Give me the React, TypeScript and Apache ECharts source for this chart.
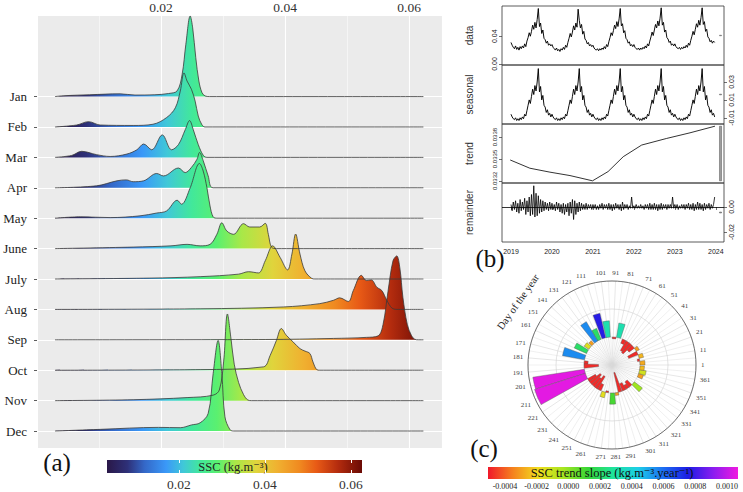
import React, { useEffect, useRef } from 'react';
import * as echarts from 'echarts';

const SERIF = '"Liberation Serif", "DejaVu Serif", serif';
const SANS = '"Liberation Sans", Arial, sans-serif';

// ---------- (a) monthly SSC density ridges: [SSC kg/m3, height in row units] ----------
const MONTHS = ['Jan', 'Feb', 'Mar', 'Apr', 'May', 'June', 'July', 'Aug', 'Sep', 'Oct', 'Nov', 'Dec'];

const JAN = [[0.0029, 0], [0.0045, 0.03], [0.0085, 0.06], [0.0134, 0.09], [0.0158, 0.05], [0.019, 0.06], [0.0212, 0.1], [0.0226, 0.19], [0.0234, 0.73], [0.024, 1.72], [0.0247, 2.65], [0.0251, 2.26], [0.0256, 1.28], [0.0261, 0.51], [0.0266, 0.13], [0.0271, 0.02], [0.0278, 0], [0.0623, 0]];
const FEB = [[0.0029, 0], [0.0064, 0.065], [0.0083, 0.175], [0.0102, 0.065], [0.0155, 0.05], [0.0187, 0.09], [0.0209, 0.31], [0.0223, 0.63], [0.0231, 1.18], [0.0237, 1.78], [0.0242, 1.51], [0.0249, 1.24], [0.0255, 0.85], [0.026, 0.36], [0.0266, 0.07], [0.0271, 0], [0.0623, 0]];
const MAR = [[0.0029, 0], [0.0056, 0.065], [0.0072, 0.2], [0.0096, 0.09], [0.0118, 0.03], [0.0145, 0.11], [0.0161, 0.25], [0.0172, 0.44], [0.0185, 0.25], [0.0202, 0.74], [0.0217, 0.25], [0.0228, 0.42], [0.0239, 0.91], [0.0246, 1.21], [0.0252, 0.91], [0.026, 0.42], [0.0268, 0.07], [0.0274, 0], [0.0623, 0]];
const APR = [[0.0029, 0], [0.0096, 0.065], [0.0129, 0.23], [0.0144, 0.26], [0.0155, 0.2], [0.0172, 0.23], [0.0193, 0.47], [0.0204, 0.39], [0.0228, 0.65], [0.0239, 0.5], [0.0249, 0.67], [0.0258, 0.94], [0.0262, 1.16], [0.0268, 0.89], [0.0276, 0.39], [0.0284, 0], [0.0623, 0]];
const MAY = [[0.0029, 0], [0.007, 0.045], [0.0118, 0.02], [0.0166, 0.077], [0.0193, 0.17], [0.0209, 0.24], [0.0226, 0.59], [0.0233, 0.46], [0.0247, 1.0], [0.0262, 1.8], [0.0268, 1.55], [0.0274, 1.0], [0.0279, 0.4], [0.0284, 0.045], [0.029, 0], [0.0623, 0]];
const JUNE = [[0.0029, 0], [0.0155, 0.05], [0.0216, 0.09], [0.0242, 0.14], [0.0263, 0.09], [0.0279, 0.14], [0.029, 0.47], [0.0298, 0.85], [0.0306, 0.58], [0.0317, 0.47], [0.0333, 0.82], [0.0343, 0.71], [0.0359, 0.71], [0.0368, 0.83], [0.0373, 0.47], [0.0378, 0.05], [0.0386, 0], [0.0623, 0]];
const JULY = [[0.0029, 0], [0.0182, 0.03], [0.0263, 0.077], [0.0325, 0.16], [0.0341, 0.24], [0.0357, 0.2], [0.0368, 0.6], [0.038, 1.09], [0.0392, 0.71], [0.0404, 0.3], [0.0411, 0.82], [0.0417, 1.48], [0.0424, 0.82], [0.0432, 0.27], [0.0443, 0.02], [0.0448, 0], [0.0623, 0]];
const AUG = [[0.0029, 0], [0.0263, 0.02], [0.0397, 0.08], [0.0456, 0.19], [0.0478, 0.3], [0.0488, 0.38], [0.0502, 0.26], [0.051, 0.62], [0.0523, 1.12], [0.0531, 0.95], [0.0539, 0.97], [0.0548, 0.73], [0.0556, 0.62], [0.0564, 0.3], [0.0572, 0.05], [0.058, 0], [0.0623, 0]];
const SEP = [[0.0029, 0], [0.0369, 0.01], [0.0478, 0.045], [0.0531, 0.08], [0.055, 0.13], [0.0558, 0.51], [0.0566, 1.6], [0.0574, 2.6], [0.058, 2.76], [0.0585, 2.37], [0.059, 1.39], [0.0597, 0.51], [0.0604, 0.13], [0.0609, 0.02], [0.0615, 0], [0.0623, 0]];
const OCT = [[0.0029, 0], [0.0263, 0.02], [0.0365, 0.11], [0.0376, 0.49], [0.0386, 0.98], [0.0394, 1.37], [0.0402, 1.15], [0.0413, 0.93], [0.0424, 0.71], [0.0432, 0.63], [0.044, 0.55], [0.0445, 0.27], [0.0451, 0.02], [0.0456, 0], [0.0623, 0]];
const NOV = [[0.0029, 0], [0.0155, 0.03], [0.0242, 0.1], [0.0284, 0.18], [0.0294, 0.35], [0.0301, 1.3], [0.0307, 2.85], [0.0313, 2.0], [0.0318, 1.2], [0.0325, 0.6], [0.0333, 0.2], [0.034, 0.02], [0.0346, 0], [0.0623, 0]];
const DEC = [[0.0029, 0], [0.0102, 0.055], [0.0196, 0.12], [0.0231, 0.11], [0.0249, 0.2], [0.0263, 0.27], [0.0276, 0.58], [0.0284, 1.89], [0.0292, 2.98], [0.0298, 1.89], [0.0303, 0.47], [0.0311, 0.05], [0.0317, 0], [0.0623, 0]];
const RIDGES = [JAN, FEB, MAR, APR, MAY, JUNE, JULY, AUG, SEP, OCT, NOV, DEC];

const SSC_TICKS = [0.02, 0.04, 0.06];
const SSC_STOP_VALUES = [0.00326, 0.008, 0.012, 0.017, 0.021, 0.025, 0.029, 0.033, 0.038, 0.043, 0.048, 0.052, 0.057, 0.0626];
const SSC_STOP_COLORS = ['#2a1848', '#2e3078', '#3468c8', '#3a98f8', '#40c8d8', '#42e89a', '#5af070', '#a8e848', '#e0d43c', '#f0b030', '#f08a20', '#e85a16', '#b42c0e', '#6a0a05'];

// ---------- (b) STL decomposition, 10-day samples ----------
const STL_YEARS = [2019, 2020, 2021, 2022, 2023];
const STL_TICKS = [2019, 2020, 2021, 2022, 2023, 2024];
const DATA_2019 = [0.031, 0.027, 0.024, 0.022, 0.026, 0.021, 0.024, 0.020, 0.025, 0.022, 0.026, 0.023, 0.029, 0.025, 0.033, 0.038, 0.045, 0.040, 0.047, 0.056, 0.050, 0.060, 0.052, 0.064, 0.080, 0.054, 0.059, 0.044, 0.049, 0.037, 0.035, 0.030, 0.033, 0.027, 0.029, 0.026];
const DATA_2020 = [0.028, 0.024, 0.022, 0.020, 0.023, 0.019, 0.021, 0.018, 0.022, 0.020, 0.024, 0.021, 0.027, 0.024, 0.031, 0.037, 0.044, 0.039, 0.046, 0.055, 0.049, 0.059, 0.053, 0.079, 0.063, 0.052, 0.057, 0.043, 0.047, 0.036, 0.034, 0.029, 0.031, 0.026, 0.028, 0.025];
const DATA_2021 = [0.027, 0.023, 0.021, 0.020, 0.022, 0.019, 0.022, 0.020, 0.023, 0.021, 0.025, 0.022, 0.028, 0.025, 0.032, 0.038, 0.045, 0.041, 0.048, 0.056, 0.051, 0.061, 0.054, 0.065, 0.080, 0.055, 0.058, 0.045, 0.048, 0.037, 0.035, 0.030, 0.032, 0.026, 0.028, 0.025];
const DATA_2022 = [0.028, 0.024, 0.022, 0.021, 0.023, 0.020, 0.023, 0.021, 0.024, 0.022, 0.026, 0.023, 0.029, 0.026, 0.033, 0.039, 0.046, 0.041, 0.049, 0.057, 0.052, 0.062, 0.055, 0.066, 0.081, 0.056, 0.060, 0.046, 0.049, 0.038, 0.036, 0.031, 0.033, 0.027, 0.029, 0.026];
const DATA_2023 = [0.029, 0.025, 0.023, 0.022, 0.024, 0.021, 0.024, 0.022, 0.025, 0.023, 0.027, 0.024, 0.030, 0.027, 0.034, 0.040, 0.047, 0.042, 0.050, 0.058, 0.053, 0.063, 0.056, 0.067, 0.081, 0.057, 0.061, 0.047, 0.050, 0.039, 0.037, 0.032, 0.034, 0.030, 0.033, 0.031];
const DATA_BY_YEAR = [DATA_2019, DATA_2020, DATA_2021, DATA_2022, DATA_2023];

// the seasonal component repeats every year
const SEASONAL_YEAR = [-0.006, -0.009, -0.011, -0.012, -0.010, -0.013, -0.011, -0.013, -0.010, -0.012, -0.009, -0.011, -0.006, -0.008, -0.002, 0.004, 0.010, 0.006, 0.014, 0.022, 0.016, 0.026, 0.020, 0.030, 0.045, 0.019, 0.025, 0.010, 0.015, 0.004, 0.002, -0.004, -0.001, -0.007, -0.005, -0.009];

const TREND_TIME = [2018.98, 2019.46, 2019.95, 2020.44, 2020.99, 2021.37, 2021.74, 2022.19, 2022.8, 2023.37, 2023.98];
const TREND_VALUES = [0.033486, 0.033373, 0.033319, 0.033272, 0.0332, 0.033327, 0.033531, 0.033691, 0.033782, 0.033859, 0.03395];

const REM_2019 = [0.002, -0.003, 0.004, -0.002, 0.005, -0.004, 0.003, -0.005, 0.006, -0.003, 0.004, -0.002, 0.007, -0.006, 0.005, -0.004, 0.008, -0.007, 0.010, -0.006, 0.017, -0.008, 0.011, -0.007, 0.009, -0.005, 0.006, -0.004, 0.005, -0.003, 0.004, -0.002, 0.003, -0.003, 0.004, -0.002];
const REM_2020 = [0.003, -0.002, 0.002, -0.003, 0.004, -0.002, 0.003, -0.004, 0.002, -0.005, 0.003, -0.006, 0.002, -0.004, 0.003, -0.007, 0.004, -0.005, 0.006, -0.010, 0.005, -0.006, 0.003, -0.004, 0.004, -0.003, 0.003, -0.002, 0.002, -0.002, 0.003, -0.002, 0.002, -0.001, 0.002, -0.002];
const REM_2021 = [0.002, -0.001, 0.002, -0.002, 0.001, -0.002, 0.002, -0.001, 0.003, -0.002, 0.002, -0.001, 0.002, -0.002, 0.003, -0.002, 0.002, -0.003, 0.002, -0.002, 0.003, -0.001, 0.002, -0.002, 0.002, -0.003, 0.004, -0.002, 0.002, -0.001, 0.002, -0.002, 0.001, -0.001, 0.008, -0.001];
const REM_2022 = [0.001, -0.001, 0.002, -0.001, 0.001, -0.001, 0.002, -0.001, 0.001, -0.002, 0.002, -0.001, 0.002, -0.002, 0.003, -0.002, 0.002, -0.002, 0.003, -0.002, 0.002, -0.003, 0.002, -0.002, 0.003, -0.002, 0.002, -0.001, 0.002, -0.002, 0.002, -0.001, 0.002, -0.001, 0.008, -0.001];
const REM_2023 = [0.002, -0.001, 0.002, -0.002, 0.001, -0.001, 0.002, -0.001, 0.002, -0.002, 0.002, -0.001, 0.003, -0.002, 0.002, -0.002, 0.003, -0.003, 0.002, -0.002, 0.004, -0.002, 0.003, -0.002, 0.002, -0.003, 0.003, -0.002, 0.002, -0.001, 0.003, -0.002, 0.002, -0.001, 0.002, 0.008];
const REM_BY_YEAR = [REM_2019, REM_2020, REM_2021, REM_2022, REM_2023];

// ---------- (c) trend slope by day of the year (8-day bins, day-1) ----------
const BIN_START = [0, 8, 14, 22, 30, 38, 46, 54, 62, 74, 84, 96, 106, 116, 124, 134, 142, 152, 164, 176, 183, 194, 203, 215, 222, 230, 238, 246, 256, 264, 274, 284, 291, 300, 308, 316, 324, 344, 352, 360];
const BIN_END = [8, 13, 22, 30, 38, 46, 54, 62, 70, 83, 92, 105, 114, 124, 132, 140, 150, 160, 174, 183, 192, 203, 215, 222, 230, 238, 246, 254, 264, 270, 283, 291, 299, 308, 316, 324, 332, 352, 360, 368];
const BAR_LENGTH = [0.00009, -0.00004, 0.00008, -0.00018, 0.00006, -0.00012, -0.00022, -0.0002, -0.00008, 0.00026, -0.00003, 0.00029, 0.00045, 0.00021, 0.0004, 0.00007, 0.0001, 0.00024, 0.0004, -0.00007, -0.00026, 0.00093, 0.00095, -0.00016, -0.00024, -0.00019, -0.00026, -0.00012, 0.0001, -0.00003, 0.0002, 0.00005, -0.00036, -0.00014, -0.00008, -0.00012, 0.00018, 0.00009, 0.00012, 0.00008];
const BAR_SLOPE = [-0.00028, -0.00048, -0.00026, -0.00048, -0.0003, -0.00048, -0.00048, -0.00048, -0.00048, 0.00032, -0.00048, 0.00032, 0.00077, 0.0002, 0.00055, -0.0003, -0.00015, 0.0002, 0.00055, -0.00048, -0.00048, 0.00105, 0.00105, -0.00048, -0.00048, -0.00048, -0.00048, -0.00048, -0.00016, -0.00048, 0.0001, -0.0003, -0.00048, -0.00048, -0.00048, -0.00048, -0.00002, -0.0003, -0.00012, -0.00025];
const SLOPE_TICKS = [-0.0004, -0.0002, 0, 0.0002, 0.0004, 0.0006, 0.0008, 0.001];
const SLOPE_MIN = -0.000507;
const SLOPE_MAX = 0.00107;
const SLOPE_COLORS = ['#f0182a', '#f5821e', '#f2dc1e', '#a8e620', '#36d636', '#1ee49c', '#1ccfe8', '#1c6ef2', '#1c1ce4', '#8a1cf0', '#f01ae0'];

// layout of the ridge panel, used to place the horizontal fill gradient
const RIDGE_LEFT = 37;
const RIDGE_WIDTH = 405;
const RIDGE_XMAX = 0.0653;
const RIDGE_YMIN = -0.558;
const RIDGE_YMAX = 13.65;

const STL_XMIN = 2018.78;
const STL_XMAX = 2024.2;

const App: React.FC = () => {
  const chartRef = useRef<HTMLDivElement>(null);

  useEffect(() => {
    document.body.style.margin = '0';
    if (!chartRef.current) return;
    const chart = echarts.init(chartRef.current, undefined, { renderer: 'svg' });

    const sMin = SSC_STOP_VALUES[0];
    const sMax = SSC_STOP_VALUES[SSC_STOP_VALUES.length - 1];
    const sscStops = SSC_STOP_VALUES.map((v, i) => ({ offset: (v - sMin) / (sMax - sMin), color: SSC_STOP_COLORS[i] }));
    const pxOf = (v: number) => RIDGE_LEFT + (v / RIDGE_XMAX) * RIDGE_WIDTH;
    const ridgeFill = new echarts.graphic.LinearGradient(pxOf(sMin), 0, pxOf(sMax), 0, sscStops, true);
    const sscBarFill = new echarts.graphic.LinearGradient(0, 0, 1, 0, sscStops);
    const slopeBarFill = new echarts.graphic.LinearGradient(
      0, 0, 1, 0,
      SLOPE_COLORS.map((c, i) => ({ offset: i / (SLOPE_COLORS.length - 1), color: c }))
    );

    const ridgeSeries = RIDGES.map((pts, i) => ({
      type: 'line',
      name: MONTHS[i],
      xAxisIndex: 0,
      yAxisIndex: 0,
      data: pts.map(([x, h]) => [x, 11 - i + h]),
      smooth: 0.35,
      showSymbol: false,
      symbol: 'none',
      lineStyle: { color: '#3a3a3a', width: 0.8 },
      areaStyle: { origin: 11 - i, color: ridgeFill, opacity: 1 },
    }));

    const stlTime = (y: number, i: number) => y + i / 36;
    const dataSeries = STL_YEARS.flatMap((y, k) => DATA_BY_YEAR[k].map((v, i) => [stlTime(y, i), v]));
    const seasonalSeries = STL_YEARS.flatMap((y) => SEASONAL_YEAR.map((v, i) => [stlTime(y, i), v]));
    const remainderSeries = STL_YEARS.flatMap((y, k) => REM_BY_YEAR[k].map((v, i) => [stlTime(y, i), v]));
    const trendSeries = TREND_TIME.map((t, i) => [t, TREND_VALUES[i]]);
    const trendRange = Math.max(...TREND_VALUES) - Math.min(...TREND_VALUES);

    const stlPanels = [
      { top: 6, min: -0.0015, max: 0.0836, pos: 'left', ticks: [0, 0.04], digits: 2, name: 'data', font: 7 },
      { top: 65, min: -0.0169, max: 0.049, pos: 'right', ticks: [-0.01, 0.01, 0.03], digits: 2, name: 'seasonal', font: 7 },
      { top: 124, min: 0.03317, max: 0.03398, pos: 'left', ticks: [0.0332, 0.0335, 0.0338], digits: 4, name: 'trend', font: 6 },
      { top: 183, min: -0.028, max: 0.0192, pos: 'right', ticks: [-0.02, 0], digits: 2, name: 'remainder', font: 7 },
    ];

    const rangeBar = (p: { min: number; max: number }) => {
      const mid = (p.min + p.max) / 2;
      return {
        silent: true,
        itemStyle: { color: '#9c9c9c', borderColor: '#555', borderWidth: 0.5 },
        data: [[{ xAxis: 2024.09, yAxis: mid - trendRange / 2 }, { xAxis: 2024.14, yAxis: mid + trendRange / 2 }]],
      };
    };

    const stlLine = (data: number[][], idx: number, width: number, extra: any = {}) => ({
      type: 'line',
      xAxisIndex: 3 + idx,
      yAxisIndex: 2 + idx,
      data,
      showSymbol: false,
      symbol: 'none',
      lineStyle: { color: '#000', width },
      markArea: rangeBar(stlPanels[idx]),
      ...extra,
    });

    const centered = { align: 'center', verticalAlign: 'middle', textAlign: 'center', textVerticalAlign: 'middle' };

    const option: any = {
      animation: false,
      backgroundColor: '#ffffff',
      textStyle: { fontFamily: SERIF },
      grid: [
        { left: RIDGE_LEFT, top: 15, width: RIDGE_WIDTH, height: 433, show: true, backgroundColor: '#ebebeb', borderWidth: 0 },
        { left: 107, top: 460, width: 255, height: 13, show: true, backgroundColor: sscBarFill, borderWidth: 0 },
        ...stlPanels.map((p) => ({ left: 502, top: p.top, width: 222, height: 59, show: true, borderColor: '#333', borderWidth: 0.8 })),
        { left: 488, top: 467, width: 250, height: 12, show: true, backgroundColor: slopeBarFill, borderWidth: 0 },
      ],
      xAxis: [
        {
          type: 'value', gridIndex: 0, position: 'top', min: 0, max: RIDGE_XMAX, interval: 0.02,
          axisLine: { show: false }, axisTick: { show: false },
          axisLabel: {
            color: '#333', fontSize: 13.5, fontFamily: SERIF, margin: 2,
            formatter: (v: number) => (SSC_TICKS.some((t) => Math.abs(t - v) < 1e-6) ? v.toFixed(2) : ''),
          },
          splitLine: { show: true, lineStyle: { color: '#ffffff', width: 1.1 } },
          minorTick: { show: false, splitNumber: 2 },
          minorSplitLine: { show: true, lineStyle: { color: '#ffffff', width: 0.5 } },
        },
        {
          type: 'value', gridIndex: 1, min: sMin, max: sMax,
          axisLine: { show: false },
          axisTick: { show: true, inside: true, length: 3, customValues: SSC_TICKS, lineStyle: { color: '#ffffff', width: 1 } },
          axisLabel: { customValues: SSC_TICKS, formatter: (v: number) => v.toFixed(2), color: '#333', fontSize: 13.5, fontFamily: SERIF, margin: 4 },
          splitLine: { show: false },
        },
        {
          type: 'value', gridIndex: 1, position: 'top', min: sMin, max: sMax,
          axisLine: { show: false },
          axisTick: { show: true, inside: true, length: 3, customValues: SSC_TICKS, lineStyle: { color: '#ffffff', width: 1 } },
          axisLabel: { show: false },
          splitLine: { show: false },
        },
        ...stlPanels.map((p, i) => ({
          type: 'value', gridIndex: 2 + i, min: STL_XMIN, max: STL_XMAX,
          axisLine: { show: false },
          axisTick: i === 3
            ? { show: true, length: 3, customValues: STL_TICKS, lineStyle: { color: '#333', width: 0.7 } }
            : { show: false },
          axisLabel: i === 3
            ? { customValues: STL_TICKS, formatter: (v: number) => String(Math.round(v)), color: '#222', fontSize: 7, fontFamily: SANS, margin: 6 }
            : { show: false },
          splitLine: { show: false },
        })),
        {
          type: 'value', gridIndex: 6, min: SLOPE_MIN, max: SLOPE_MAX,
          axisLine: { show: false }, axisTick: { show: false },
          axisLabel: { customValues: SLOPE_TICKS, formatter: (v: number) => v.toFixed(4), color: '#222', fontSize: 8, fontFamily: SERIF, margin: 3 },
          splitLine: { show: false },
        },
      ],
      yAxis: [
        {
          type: 'value', gridIndex: 0, min: RIDGE_YMIN, max: RIDGE_YMAX,
          axisLine: { show: false },
          axisTick: { show: true, length: 3, customValues: MONTHS.map((_, i) => i), lineStyle: { color: '#333', width: 0.8 } },
          axisLabel: {
            customValues: MONTHS.map((_, i) => i),
            formatter: (v: number) => MONTHS[11 - Math.round(v)],
            color: '#222', fontSize: 13, fontFamily: SERIF, margin: 10,
          },
          splitLine: { show: true, customValues: MONTHS.map((_, i) => i), lineStyle: { color: '#ffffff', width: 1 } },
        },
        { type: 'value', gridIndex: 1, min: 0, max: 1, show: false },
        ...stlPanels.map((p, i) => ({
          type: 'value', gridIndex: 2 + i, min: p.min, max: p.max, position: p.pos,
          axisLine: { show: false },
          axisTick: { show: true, length: 3, customValues: p.ticks, lineStyle: { color: '#333', width: 0.7 } },
          axisLabel: { customValues: p.ticks, formatter: (v: number) => v.toFixed(p.digits), rotate: 90, color: '#222', fontSize: p.font, fontFamily: SANS, margin: 4 },
          splitLine: { show: false },
        })),
        { type: 'value', gridIndex: 6, min: 0, max: 1, show: false },
      ],
      polar: { center: [612, 365], radius: [0, 84] },
      angleAxis: {
        type: 'value', min: 0, max: 370, interval: 10, startAngle: 0, clockwise: false,
        axisLine: { show: true, lineStyle: { color: '#555', width: 0.8 } },
        axisTick: { show: false },
        axisLabel: {
          formatter: (v: number) => (v >= 370 ? '' : String(Math.round(v) + 1)),
          color: '#444', fontSize: 7, fontFamily: SERIF, margin: 5,
        },
        splitLine: { show: true, lineStyle: { color: '#cfcfcf', width: 0.5 } },
        minorTick: { show: false, splitNumber: 2 },
        minorSplitLine: { show: true, lineStyle: { color: '#d8d8d8', width: 0.4 } },
      },
      radiusAxis: {
        type: 'value', min: -0.0005, max: 0.001, interval: 0.0005,
        axisLine: { show: false }, axisTick: { show: false }, axisLabel: { show: false },
        splitLine: { show: true, lineStyle: { color: '#cfcfcf', width: 0.6 } },
      },
      visualMap: {
        type: 'continuous', show: false, dimension: 3, seriesIndex: 16,
        min: SLOPE_MIN, max: SLOPE_MAX, inRange: { color: SLOPE_COLORS },
      },
      series: [
        ...ridgeSeries,
        stlLine(dataSeries, 0, 0.95),
        stlLine(seasonalSeries, 1, 0.95),
        stlLine(trendSeries, 2, 0.8),
        stlLine(remainderSeries, 3, 0.8, {
          markLine: {
            silent: true, symbol: 'none', label: { show: false },
            lineStyle: { color: '#000', width: 0.8, type: 'solid' },
            data: [{ yAxis: 0 }],
          },
        }),
        {
          type: 'custom',
          coordinateSystem: 'polar',
          encode: { angle: 0, radius: 2 },
          data: BIN_START.map((s, i) => [s, BIN_END[i], BAR_LENGTH[i], BAR_SLOPE[i]]),
          renderItem: (params: any, api: any) => {
            const cs = params.coordSys;
            const cx = cs.cx;
            const cy = cs.cy;
            const v0 = api.value(0);
            const v1 = api.value(1);
            const len = api.value(2);
            const pA = api.coord([0, v0]);
            const pB = api.coord([0, v1]);
            const pL = api.coord([len, v0]);
            const rBase = Math.hypot(pA[0] - cx, pA[1] - cy);
            const rLen = Math.hypot(pL[0] - cx, pL[1] - cy);
            const a0 = Math.atan2(pA[1] - cy, pA[0] - cx);
            let a1 = Math.atan2(pB[1] - cy, pB[0] - cx);
            if (a1 > a0) a1 -= 2 * Math.PI;
            return {
              type: 'sector',
              shape: { cx, cy, r0: Math.min(rBase, rLen), r: Math.max(rBase, rLen), startAngle: a1, endAngle: a0, clockwise: true },
              style: { fill: api.visual('color'), stroke: '#555', lineWidth: 0.4 },
            };
          },
        },
      ],
      graphic: [
        { type: 'text', x: 57, y: 462, style: { text: '(a)', fontSize: 25, fontFamily: SERIF, fill: '#111', ...centered } },
        { type: 'text', x: 490, y: 258, style: { text: '(b)', fontSize: 25, fontFamily: SERIF, fill: '#111', ...centered } },
        { type: 'text', x: 484, y: 448, style: { text: '(c)', fontSize: 25, fontFamily: SERIF, fill: '#111', ...centered } },
        { type: 'text', x: 233, y: 466.5, style: { text: 'SSC (kg.m⁻³)', fontSize: 12.5, fontFamily: SERIF, fill: '#222', ...centered } },
        { type: 'text', x: 612, y: 473, style: { text: 'SSC trend slope (kg.m⁻³.year⁻¹)', fontSize: 12.5, fontFamily: SERIF, fill: '#111', ...centered } },
        {
          type: 'text', x: 518, y: 302, rotation: (55 * Math.PI) / 180,
          style: { text: 'Day of the year', fontSize: 10.5, fontFamily: SERIF, fill: '#222', ...centered },
        },
        ...stlPanels.map((p) => ({
          type: 'text', x: 469, y: p.top + 29.5, rotation: Math.PI / 2,
          style: { text: p.name, fontSize: 10, fontFamily: SANS, fill: '#333', ...centered },
        })),
      ],
    };

    chart.setOption(option, true);

    return () => {
      chart.dispose();
    };
  }, []);

  return <div ref={chartRef} style={{ position: 'absolute', left: 0, top: 0, width: 743, height: 492 }} />;
};

export default App;
